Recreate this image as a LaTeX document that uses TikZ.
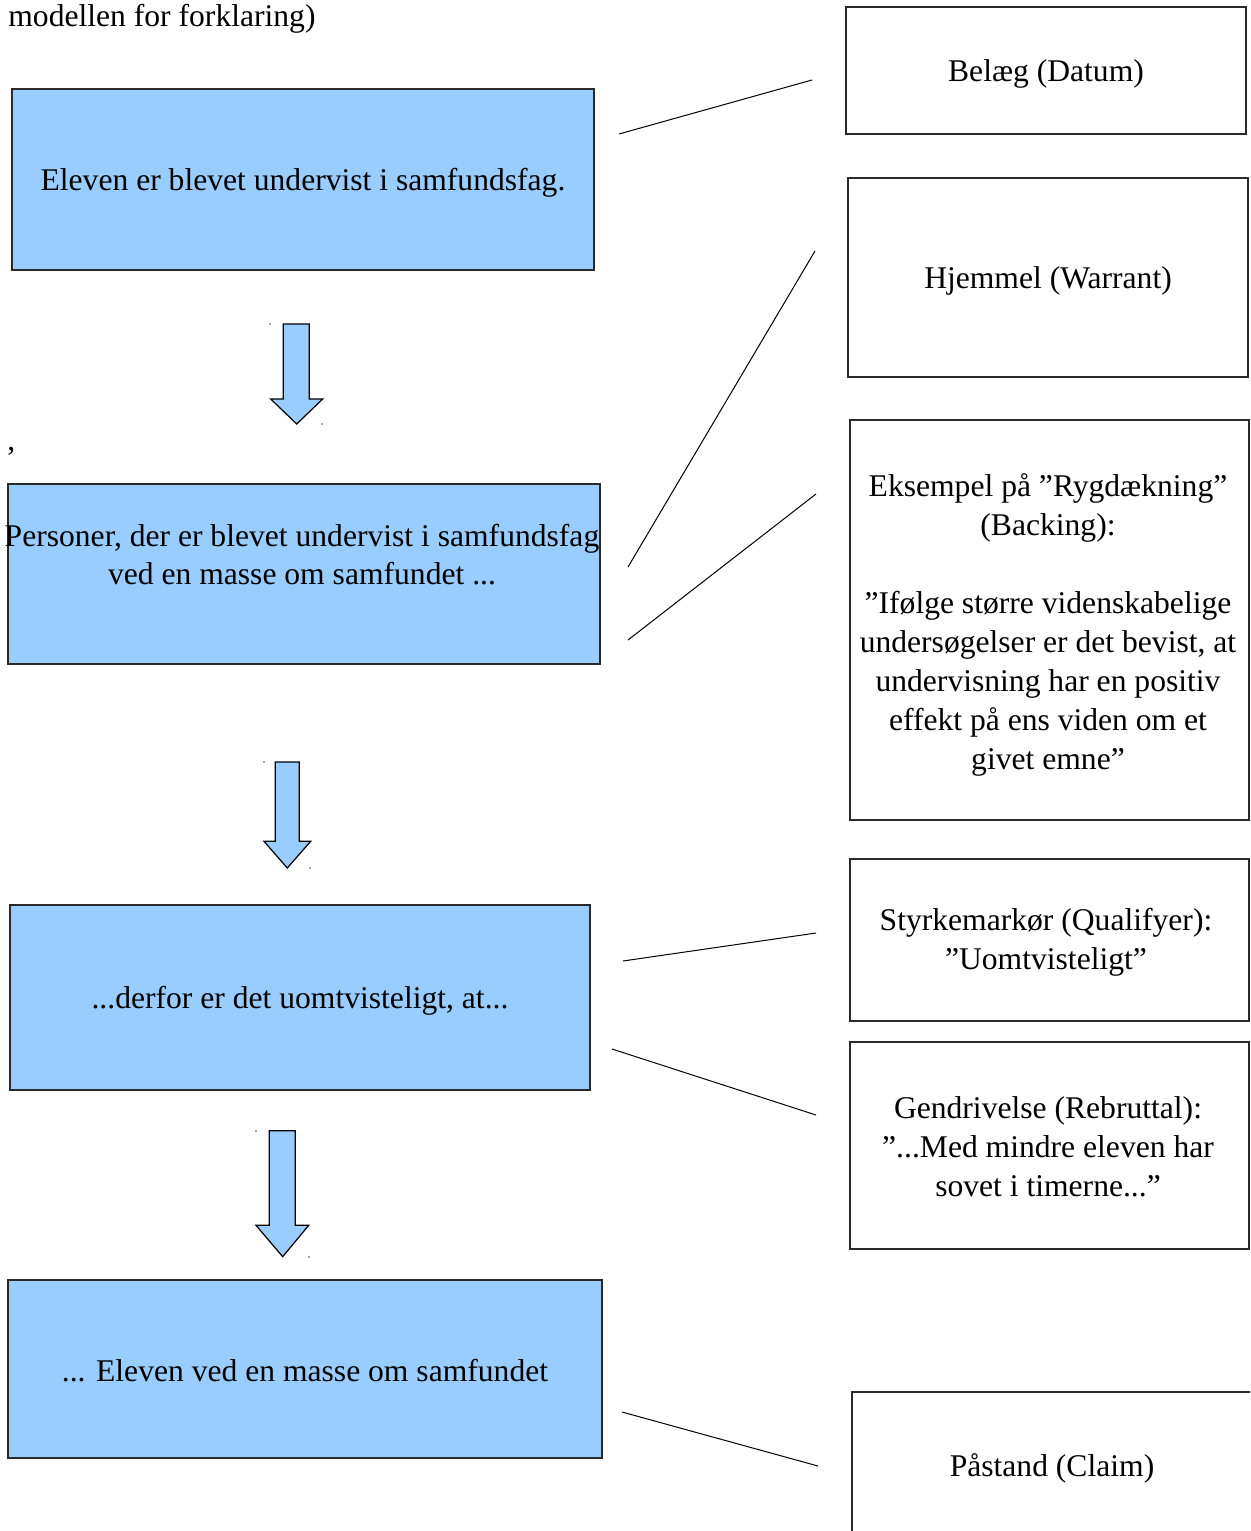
\documentclass[tikz,border=0pt]{standalone}
\usepackage{fontspec}
\setmainfont{Liberation Serif}
\definecolor{boxblue}{HTML}{99CCFF}
\definecolor{edge}{HTML}{2A2A2A}
\tikzset{
  txt/.style={font=\fontsize{15.8}{19.5}\selectfont, align=center, inner sep=0pt},
  txtb/.style={font=\fontsize{15.8}{19}\selectfont, align=center, inner sep=0pt},
  bluebox/.style={draw=edge, fill=boxblue, line width=0.6pt, inner sep=0pt, outer sep=0pt},
  whitebox/.style={draw=edge, fill=white, line width=0.6pt, inner sep=0pt, outer sep=0pt},
  blockarrow/.style={draw=black, fill=boxblue, line width=0.6pt, line join=miter},
  thinline/.style={draw=black, line width=0.5pt},
  dot/.style={fill=gray!70, inner sep=0pt, minimum size=1pt}
}
\begin{document}
\begin{tikzpicture}[x=0.5pt,y=-0.5pt]
\useasboundingbox (0,0) rectangle (1250,1531);
\clip (0,0) rectangle (1250,1531);
\fill[white] (0,0) rectangle (1250,1531);

% top text
\node[txt, anchor=base west] (top) at (8,26) {modellen for forklaring)};
\node[txt, anchor=base west] (comma) at (7,450) {,};

% blue boxes
\node[bluebox, minimum width=291pt, minimum height=90.5pt] (b1) at (303,179.5) {};
\node[bluebox, minimum width=296pt, minimum height=90pt] (b2) at (304,574) {};
\node[bluebox, minimum width=290pt, minimum height=92.5pt] (b3) at (300,997.5) {};
\node[bluebox, minimum width=297pt, minimum height=89pt] (b4) at (305,1369) {};

\node[txt] (t1) at (303,183) {Eleven er blevet undervist i samfundsfag.};
\node[txtb] (t2) at (302,555) {Personer, der er blevet undervist i samfundsfag\\ved en masse om samfundet ...};
\node[txt] (t3) at (300,1001) {...derfor er det uomtvisteligt, at...};
\node[txt] (t4) at (305,1371) {... Eleven ved en masse om samfundet};

% block arrows
\draw[blockarrow] (283.3,324) -- (309.3,324) -- (309.3,399) -- (322.7,399) -- (296.7,424) -- (270.7,399) -- (283.3,399) -- cycle;
\draw[blockarrow] (275.3,762) -- (299.3,762) -- (299.3,841.3) -- (310.7,841.3) -- (287.3,868) -- (264,841.3) -- (275.3,841.3) -- cycle;
\draw[blockarrow] (269.3,1130.7) -- (295.3,1130.7) -- (295.3,1225.3) -- (308.7,1225.3) -- (282.7,1256.7) -- (256,1225.3) -- (269.3,1225.3) -- cycle;
\node[dot] (d1) at (270,324) {};
\node[dot] (d2) at (322,424) {};
\node[dot] (d3) at (264,762) {};
\node[dot] (d4) at (310,868) {};
\node[dot] (d5) at (256,1131) {};
\node[dot] (d6) at (309,1257) {};

% white boxes
\node[whitebox, minimum width=200pt, minimum height=63.5pt] (w1) at (1046,70.5) {};
\node[whitebox, minimum width=200pt, minimum height=99.5pt] (w2) at (1048,277.5) {};
\node[whitebox, minimum width=199.5pt, minimum height=200pt] (w3) at (1049.5,620) {};
\node[whitebox, minimum width=199.5pt, minimum height=81pt] (w4) at (1049.5,940) {};
\node[whitebox, minimum width=199.5pt, minimum height=103.5pt] (w5) at (1049.5,1145.5) {};
\node[whitebox, minimum width=210pt, minimum height=90pt] (w6) at (1062,1482) {};

\node[txt] (s1) at (1046,74) {Belæg (Datum)};
\node[txt] (s2) at (1048,281) {Hjemmel (Warrant)};
\node[txt] (s3) at (1048,625) {Eksempel på ”Rygdækning”\\(Backing):\\~\\”Ifølge større videnskabelige\\undersøgelser er det bevist, at\\undervisning har en positiv\\effekt på ens viden om et\\givet emne”};
\node[txt] (s4) at (1046,942) {Styrkemarkør (Qualifyer):\\”Uomtvisteligt”};
\node[txt] (s5) at (1048,1147) {Gendrivelse (Rebruttal):\\”...Med mindre eleven har\\sovet i timerne...”};
\node[txt] (s6) at (1052,1468) {Påstand (Claim)};

% connector lines
\coordinate (c1a) at (619,134);  \coordinate (c1b) at (812,80);
\coordinate (c2a) at (628,567);  \coordinate (c2b) at (815,251);
\coordinate (c3a) at (628,640);  \coordinate (c3b) at (816,494);
\coordinate (c4a) at (623,961);  \coordinate (c4b) at (816,933);
\coordinate (c5a) at (612,1049); \coordinate (c5b) at (816,1115);
\coordinate (c6a) at (622,1412); \coordinate (c6b) at (818,1466);
\draw[thinline] (c1a) -- (c1b);
\draw[thinline] (c2a) -- (c2b);
\draw[thinline] (c3a) -- (c3b);
\draw[thinline] (c4a) -- (c4b);
\draw[thinline] (c5a) -- (c5b);
\draw[thinline] (c6a) -- (c6b);
\end{tikzpicture}
\end{document}
